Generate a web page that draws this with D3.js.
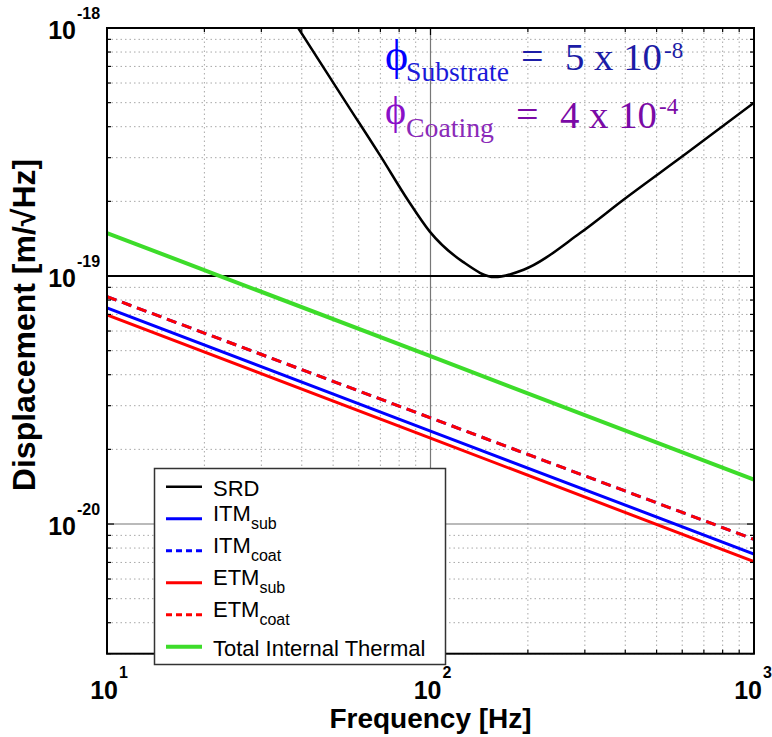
<!DOCTYPE html>
<html>
<head>
<meta charset="utf-8">
<script src="https://cdn.jsdelivr.net/npm/d3@7"></script>
<style>
  body { margin: 0; background: #fff; }
  svg { display: block; }
  .lbl { font-family: "Liberation Sans", Arial, sans-serif; }
  .ann { font-family: "Liberation Serif", "Times New Roman", serif; }
</style>
</head>
<body>
<div id="chart"></div>
<script>
// SRD curve
var srdFreq = [39, 55, 70, 85, 99.5, 126, 158, 194, 290, 395, 620, 1000];
var srdVal  = [1.0e-18, 4.97e-19, 3.05e-19, 2.03e-19, 1.51e-19, 1.14e-19, 0.99e-19, 1.06e-19, 1.49e-19, 2.03e-19, 3.13e-19, 5.0e-19];

// straight thermal noise lines, read at 10, 100, 1000 Hz
var lineFreq = [10, 100, 1000];
var itmSub   = [7.43e-20, 2.37e-20, 7.57e-21];
var itmCoat  = [8.26e-20, 2.68e-20, 8.67e-21];
var etmSub   = [6.97e-20, 2.22e-20, 7.05e-21];
var etmCoat  = [8.26e-20, 2.68e-20, 8.67e-21];
var totalTh  = [1.49e-19, 4.75e-20, 1.51e-20];

var xTicks = [10, 100, 1000];
var xTickExp = ['1', '2', '3'];
var yTicks = [1e-18, 1e-19, 1e-20];
var yTickExp = ['-18', '-19', '-20'];

var W = 772, H = 737;
var L = 107, R = 754, T = 28, B = 653.7;

var svg = d3.select('#chart').append('svg').attr('width', W).attr('height', H);

var x = d3.scaleLog().domain([10, 1000]).range([L, R]);
var y = d3.scaleLog().domain([3e-21, 1e-18]).range([B, T]);

var xMinor = [20,30,40,50,60,70,80,90,200,300,400,500,600,700,800,900];
var yMinor = [];
[1e-21, 1e-20, 1e-19].forEach(function(d) {
  for (var k = 2; k <= 9; k++) {
    var v = k * d;
    if (v >= 3e-21 - 1e-30) yMinor.push(v);
  }
});

// dotted grid
var grid = svg.append('g').attr('stroke', '#a8a8a8').attr('stroke-width', 1).attr('stroke-dasharray', '1.5,3');
grid.selectAll('.gx').data(xMinor).enter().append('line')
  .attr('x1', function(d) { return x(d); }).attr('x2', function(d) { return x(d); })
  .attr('y1', T).attr('y2', B);
grid.selectAll('.gy').data(yMinor).enter().append('line')
  .attr('y1', function(d) { return y(d); }).attr('y2', function(d) { return y(d); })
  .attr('x1', L).attr('x2', R);

// solid reference lines
svg.append('line').attr('x1', x(100)).attr('x2', x(100)).attr('y1', T).attr('y2', B)
  .attr('stroke', '#777').attr('stroke-width', 1.2);
svg.append('line').attr('x1', L).attr('x2', R).attr('y1', y(1e-20)).attr('y2', y(1e-20))
  .attr('stroke', '#777').attr('stroke-width', 1.2);
svg.append('line').attr('x1', L).attr('x2', R).attr('y1', y(1e-19)).attr('y2', y(1e-19))
  .attr('stroke', '#000').attr('stroke-width', 2);

svg.append('clipPath').attr('id', 'clip').append('rect')
  .attr('x', L).attr('y', T).attr('width', R - L).attr('height', B - T);

var line = d3.line()
  .x(function(d) { return x(d[0]); })
  .y(function(d) { return y(d[1]); });

var series = [
  {name: 'ITM', sub: 'coat', f: lineFreq, v: itmCoat, color: '#0000ff', dash: '10,6', w: 3},
  {name: 'ETM', sub: 'coat', f: lineFreq, v: etmCoat, color: '#ff0000', dash: '10,6', w: 3},
  {name: 'ITM', sub: 'sub', f: lineFreq, v: itmSub, color: '#0000ff', dash: null, w: 3},
  {name: 'ETM', sub: 'sub', f: lineFreq, v: etmSub, color: '#ff0000', dash: null, w: 3},
  {name: 'Total Internal Thermal', sub: null, f: lineFreq, v: totalTh, color: '#3ddc2a', dash: null, w: 4}
];

var plot = svg.append('g').attr('clip-path', 'url(#clip)');
series.forEach(function(s) {
  plot.append('path')
    .datum(d3.zip(s.f, s.v))
    .attr('d', line)
    .attr('fill', 'none')
    .attr('stroke', s.color)
    .attr('stroke-width', s.w)
    .attr('stroke-dasharray', s.dash);
});

plot.append('path')
  .datum(d3.zip(srdFreq, srdVal))
  .attr('d', line.curve(d3.curveMonotoneX))
  .attr('fill', 'none')
  .attr('stroke', '#000')
  .attr('stroke-width', 2.5);

// frame
svg.append('rect').attr('x', L).attr('y', T).attr('width', R - L).attr('height', B - T)
  .attr('fill', 'none').attr('stroke', '#000').attr('stroke-width', 2);

// inward ticks
var tk = svg.append('g').attr('stroke', '#000').attr('stroke-width', 1.2);
xMinor.concat([100]).forEach(function(d) {
  var len = d === 100 ? 7 : 4;
  tk.append('line').attr('x1', x(d)).attr('x2', x(d)).attr('y1', B).attr('y2', B - len);
  tk.append('line').attr('x1', x(d)).attr('x2', x(d)).attr('y1', T).attr('y2', T + len);
});
yMinor.concat([1e-19, 1e-20]).forEach(function(d) {
  var len = (d === 1e-19 || d === 1e-20) ? 7 : 4;
  tk.append('line').attr('y1', y(d)).attr('y2', y(d)).attr('x1', L).attr('x2', L + len);
  tk.append('line').attr('y1', y(d)).attr('y2', y(d)).attr('x1', R).attr('x2', R - len);
});

// tick labels
var yl = svg.append('g').attr('class', 'lbl').attr('font-weight', 'bold').attr('fill', '#000');
yTicks.forEach(function(d, i) {
  yl.append('text').attr('x', 76).attr('y', y(d) + 11).attr('text-anchor', 'end')
    .attr('font-size', 25).text('10');
  yl.append('text').attr('x', 77).attr('y', y(d) - 9).attr('font-size', 16).text(yTickExp[i]);
});
xTicks.forEach(function(d, i) {
  var dx = i === xTicks.length - 1 ? 8 : 11;
  yl.append('text').attr('x', x(d) + dx).attr('y', B + 45).attr('text-anchor', 'end')
    .attr('font-size', 25).text('10');
  yl.append('text').attr('x', x(d) + dx + 1).attr('y', B + 24).attr('font-size', 16).text(xTickExp[i]);
});

// axis titles
svg.append('text').attr('class', 'lbl').attr('font-weight', 'bold').attr('font-size', 28)
  .attr('x', x(100)).attr('y', 728).attr('text-anchor', 'middle').text('Frequency [Hz]');
svg.append('text').attr('class', 'lbl').attr('font-weight', 'bold').attr('font-size', 32)
  .attr('transform', 'translate(35,' + 325 + ') rotate(-90)')
  .attr('text-anchor', 'middle').text('Displacement [m/\u221AHz]');

// legend
var lg = svg.append('g').attr('class', 'lbl');
lg.append('rect').attr('x', 154.5).attr('y', 468.5).attr('width', 291).attr('height', 196)
  .attr('fill', '#fff').attr('stroke', '#333').attr('stroke-width', 1.5);
var legendItems = [
  {name: 'SRD', sub: null, color: '#000', dash: null, w: 2.5},
  {name: 'ITM', sub: 'sub', color: '#0000ff', dash: null, w: 3},
  {name: 'ITM', sub: 'coat', color: '#0000ff', dash: '6,4', w: 3},
  {name: 'ETM', sub: 'sub', color: '#ff0000', dash: null, w: 3},
  {name: 'ETM', sub: 'coat', color: '#ff0000', dash: '6,4', w: 3},
  {name: 'Total Internal Thermal', sub: null, color: '#3ddc2a', dash: null, w: 4}
];
legendItems.forEach(function(d, i) {
  var ly = 486.7 + i * 32;
  lg.append('line').attr('x1', 166).attr('x2', 202).attr('y1', ly).attr('y2', ly)
    .attr('stroke', d.color).attr('stroke-width', d.w).attr('stroke-dasharray', d.dash);
  var base = d.sub ? ly + 2 : ly + 9;
  var t = lg.append('text').attr('x', 213).attr('y', base).attr('font-size', 22).text(d.name);
  if (d.sub) {
    t.append('tspan').attr('dy', 8.5).attr('font-size', 16).text(d.sub);
  }
});

// loss angle annotation
var ann = svg.append('g').attr('class', 'ann');
ann.append('text').attr('x', 385).attr('y', 70).attr('font-size', 44).attr('fill', '#0000ff').text('\u03D5');
ann.append('text').attr('x', 406).attr('y', 81).attr('font-size', 27).attr('fill', '#1a1ad8')
  .attr('textLength', 103).attr('lengthAdjust', 'spacingAndGlyphs').text('Substrate');
ann.append('text').attr('x', 521).attr('y', 70).attr('font-size', 40).attr('fill', '#1c1ca6').text('=');
ann.append('text').attr('x', 565).attr('y', 70).attr('font-size', 38).attr('fill', '#1c1ca6')
  .attr('textLength', 97).attr('lengthAdjust', 'spacingAndGlyphs').text('5 x 10');
ann.append('text').attr('x', 664).attr('y', 58).attr('font-size', 23).attr('fill', '#1c1ca6').text('-8');

ann.append('text').attr('x', 385).attr('y', 124).attr('font-size', 40).attr('fill', '#8a10c8').text('\u03D5');
ann.append('text').attr('x', 406).attr('y', 137).attr('font-size', 27).attr('fill', '#8a2ab8')
  .attr('textLength', 88).attr('lengthAdjust', 'spacingAndGlyphs').text('Coating');
ann.append('text').attr('x', 516).attr('y', 128).attr('font-size', 40).attr('fill', '#7a0aa6').text('=');
ann.append('text').attr('x', 560).attr('y', 128).attr('font-size', 38).attr('fill', '#7a0aa6')
  .attr('textLength', 97).attr('lengthAdjust', 'spacingAndGlyphs').text('4 x 10');
ann.append('text').attr('x', 659).attr('y', 114).attr('font-size', 23).attr('fill', '#7a0aa6').text('-4');
</script>
</body>
</html>
